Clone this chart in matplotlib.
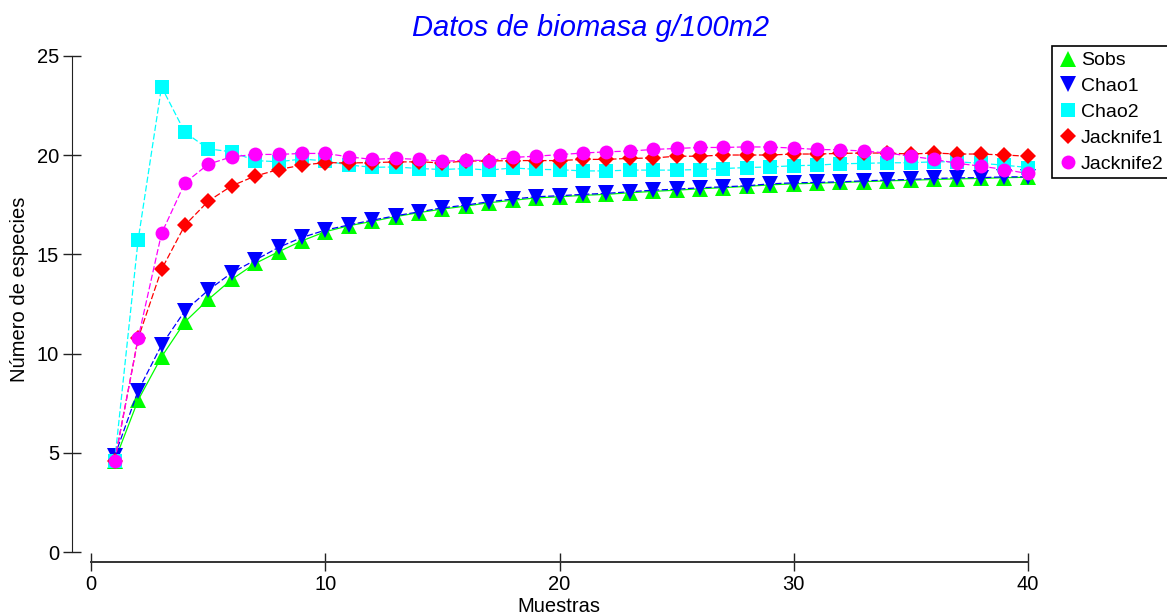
import matplotlib
matplotlib.use("Agg")
import matplotlib.pyplot as plt
from matplotlib.lines import Line2D

plt.rcParams['font.family'] = ['Liberation Sans', 'DejaVu Sans']

# samples on the x axis
muestras = list(range(1, 41))

sobs = [4.6, 7.66, 9.84, 11.6, 12.73, 13.74, 14.54, 15.13, 15.68, 16.14,
        16.44, 16.66, 16.9, 17.1, 17.28, 17.43, 17.6, 17.72, 17.84, 17.9,
        17.97, 18.02, 18.1, 18.17, 18.23, 18.3, 18.36, 18.42, 18.5, 18.55,
        18.58, 18.62, 18.66, 18.7, 18.73, 18.77, 18.8, 18.82, 18.86, 18.88]

chao1 = [4.85, 8.13, 10.43, 12.16, 13.2, 14.07, 14.71, 15.35, 15.85, 16.22,
         16.48, 16.72, 16.94, 17.14, 17.34, 17.48, 17.65, 17.78, 17.9, 17.95,
         18.02, 18.07, 18.15, 18.23, 18.28, 18.35, 18.4, 18.45, 18.55, 18.6,
         18.62, 18.65, 18.7, 18.74, 18.77, 18.82, 18.85, 18.86, 18.9, 18.9]

chao2 = [4.6, 15.72, 23.43, 21.14, 20.31, 20.16, 19.72, 19.66, 19.8, 19.7,
         19.5, 19.38, 19.4, 19.32, 19.27, 19.32, 19.24, 19.35, 19.28, 19.26,
         19.2, 19.2, 19.24, 19.24, 19.24, 19.27, 19.32, 19.37, 19.4, 19.46,
         19.49, 19.56, 19.58, 19.61, 19.61, 19.66, 19.66, 19.58, 19.49, 19.37]

jack1 = [4.6, 10.77, 14.24, 16.47, 17.68, 18.45, 18.94, 19.27, 19.49, 19.62,
         19.6, 19.62, 19.65, 19.66, 19.6, 19.7, 19.7, 19.72, 19.72, 19.72,
         19.78, 19.78, 19.83, 19.85, 19.94, 19.94, 20.0, 20.0, 20.0, 20.05,
         20.05, 20.08, 20.1, 20.1, 20.05, 20.1, 20.05, 20.05, 20.0, 19.94]

jack2 = [4.6, 10.77, 16.05, 18.6, 19.54, 19.91, 20.03, 20.03, 20.08, 20.08,
         19.91, 19.78, 19.83, 19.78, 19.68, 19.74, 19.72, 19.88, 19.94, 20.02,
         20.1, 20.16, 20.2, 20.28, 20.33, 20.38, 20.38, 20.41, 20.4, 20.35,
         20.28, 20.26, 20.2, 20.1, 19.94, 19.78, 19.58, 19.44, 19.27, 19.07]

series = [
    ("Sobs", sobs, "#00ff00", "^", 11, "-"),
    ("Chao1", chao1, "#0000ff", "v", 11, (0, (5, 2))),
    ("Chao2", chao2, "#00ffff", "s", 10, (0, (5, 2))),
    ("Jacknife1", jack1, "#ff0000", "D", 8.3, (0, (5, 2))),
    ("Jacknife2", jack2, "#ff00ff", "o", 10, (0, (5, 2))),
]

W, H = 1167, 615
fig = plt.figure(figsize=(W / 100, H / 100), dpi=100)
ax = fig.add_axes([91.3 / W, 1 - 552.3 / H, (1027.7 - 91.3) / W, (552.3 - 55.7) / H])

handles = []
for name, vals, col, mk, ms, ls in series:
    ax.plot(muestras, vals, color=col, linestyle=ls, linewidth=0.9,
            marker=mk, markersize=ms, markeredgewidth=0, clip_on=False)
    handles.append(Line2D([], [], color=col, marker=mk, markersize=ms,
                          markeredgewidth=0, linestyle='None', label=name))

ax.set_xlim(0, 40)
ax.set_ylim(0, 25)
ax.set_xticks([0, 10, 20, 30, 40])
ax.set_yticks([0, 5, 10, 15, 20, 25])

# detached axes like the original program
for s in ['top', 'right']:
    ax.spines[s].set_visible(False)
ax.spines['left'].set_position(('outward', 13.7))
ax.spines['bottom'].set_position(('outward', 6.8))
ax.spines['left'].set_color('#222222')
ax.spines['bottom'].set_color('#333333')
ax.spines['bottom'].set_linewidth(1.4)
ax.tick_params(axis='both', direction='inout', length=13, width=1,
               colors='#222222', labelcolor='black', labelsize=14.5, pad=3)

fig.text(591 / W, 1 - 28 / H, "Datos de biomasa g/100m2", color='#0000ff',
         fontsize=21, style='italic', ha='center', va='center')
fig.text(559 / W, 1 - 607 / H, "Muestras", fontsize=14.5, ha='center', va='center')
fig.text(20 / W, 1 - 289 / H, "Número de especies", fontsize=14.5,
         rotation=90, ha='center', va='center')

# legend box runs past the right edge, as in the original
leg = fig.legend(handles=handles, loc='upper left',
                 bbox_to_anchor=(1052 / W, 1 - 46 / H), borderaxespad=0,
                 fontsize=14, fancybox=False, framealpha=1, edgecolor='black',
                 borderpad=0.3, labelspacing=0.42, handlelength=1.0,
                 handletextpad=0.2)
leg.get_frame().set_linewidth(1.2)

fig.savefig("out.png", dpi=100)
